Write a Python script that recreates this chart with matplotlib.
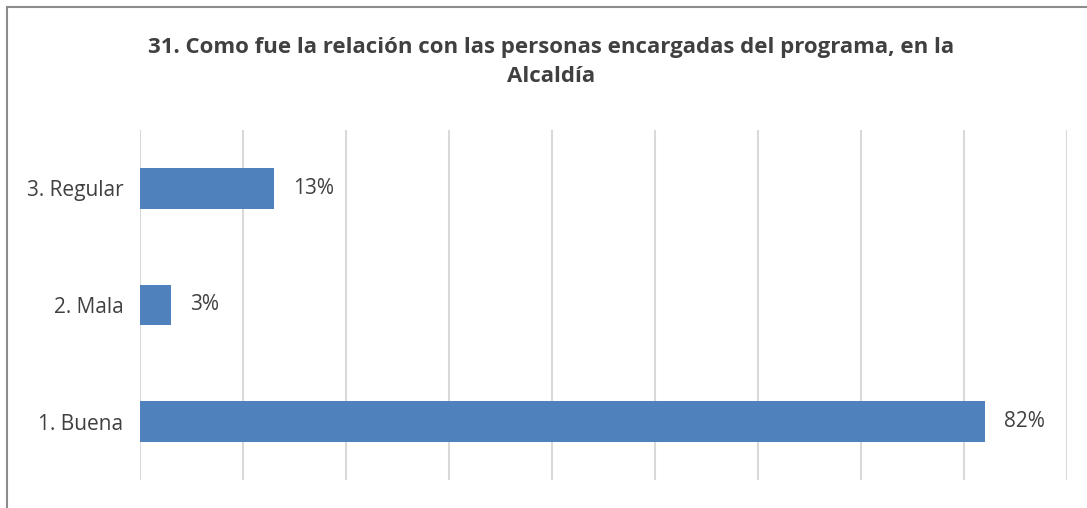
import matplotlib.pyplot as plt
from matplotlib.patches import Rectangle

categories = ['1. Buena', '2. Mala', '3. Regular']
values = [0.82, 0.03, 0.13]
labels = ['82%', '3%', '13%']

W, H = 1087, 508
fig = plt.figure(figsize=(W / 100, H / 100), dpi=100)
plt.rcParams['font.family'] = ['Open Sans', 'DejaVu Sans']

# chart frame, cut off at right and bottom like the reference
fig.patches.append(Rectangle((7 / W, -0.1), 1.2, 1 - 7 / H + 0.1, transform=fig.transFigure,
                             fill=False, edgecolor='#8c8c8c', linewidth=1.5))

ax = fig.add_axes([140 / W, 1 - 480 / H, (1067 - 140) / W, (480 - 130) / H])
ax.barh(range(len(categories)), values, height=0.35, color='#4F81BD')
for i, (v, t) in enumerate(zip(values, labels)):
    ax.annotate(t, (v, i), xytext=(14, 0), textcoords='offset points',
                va='center', ha='left', fontsize=15, color='#404040')

ax.set_xlim(0, 0.9)
ax.set_ylim(-0.5, 2.5)
ax.set_xticks([i / 10 for i in range(10)])
ax.set_xticklabels([])
ax.set_yticks(range(len(categories)))
ax.set_yticklabels(categories, fontsize=15, color='#404040')
ax.tick_params(axis='both', length=0)
ax.tick_params(axis='y', pad=12)
ax.grid(axis='x', color='#d9d9d9', linewidth=1.5)
ax.set_axisbelow(True)
for s in ax.spines.values():
    s.set_visible(False)

fig.text(551 / W, 1 - 47 / H, '31. Como fue la relación con las personas encargadas del programa, en la',
         ha='center', va='center', fontsize=16, fontweight='bold', color='#404040')
fig.text(551 / W, 1 - 77 / H, 'Alcaldía',
         ha='center', va='center', fontsize=16, fontweight='bold', color='#404040')

fig.savefig('out.png', dpi=100)
